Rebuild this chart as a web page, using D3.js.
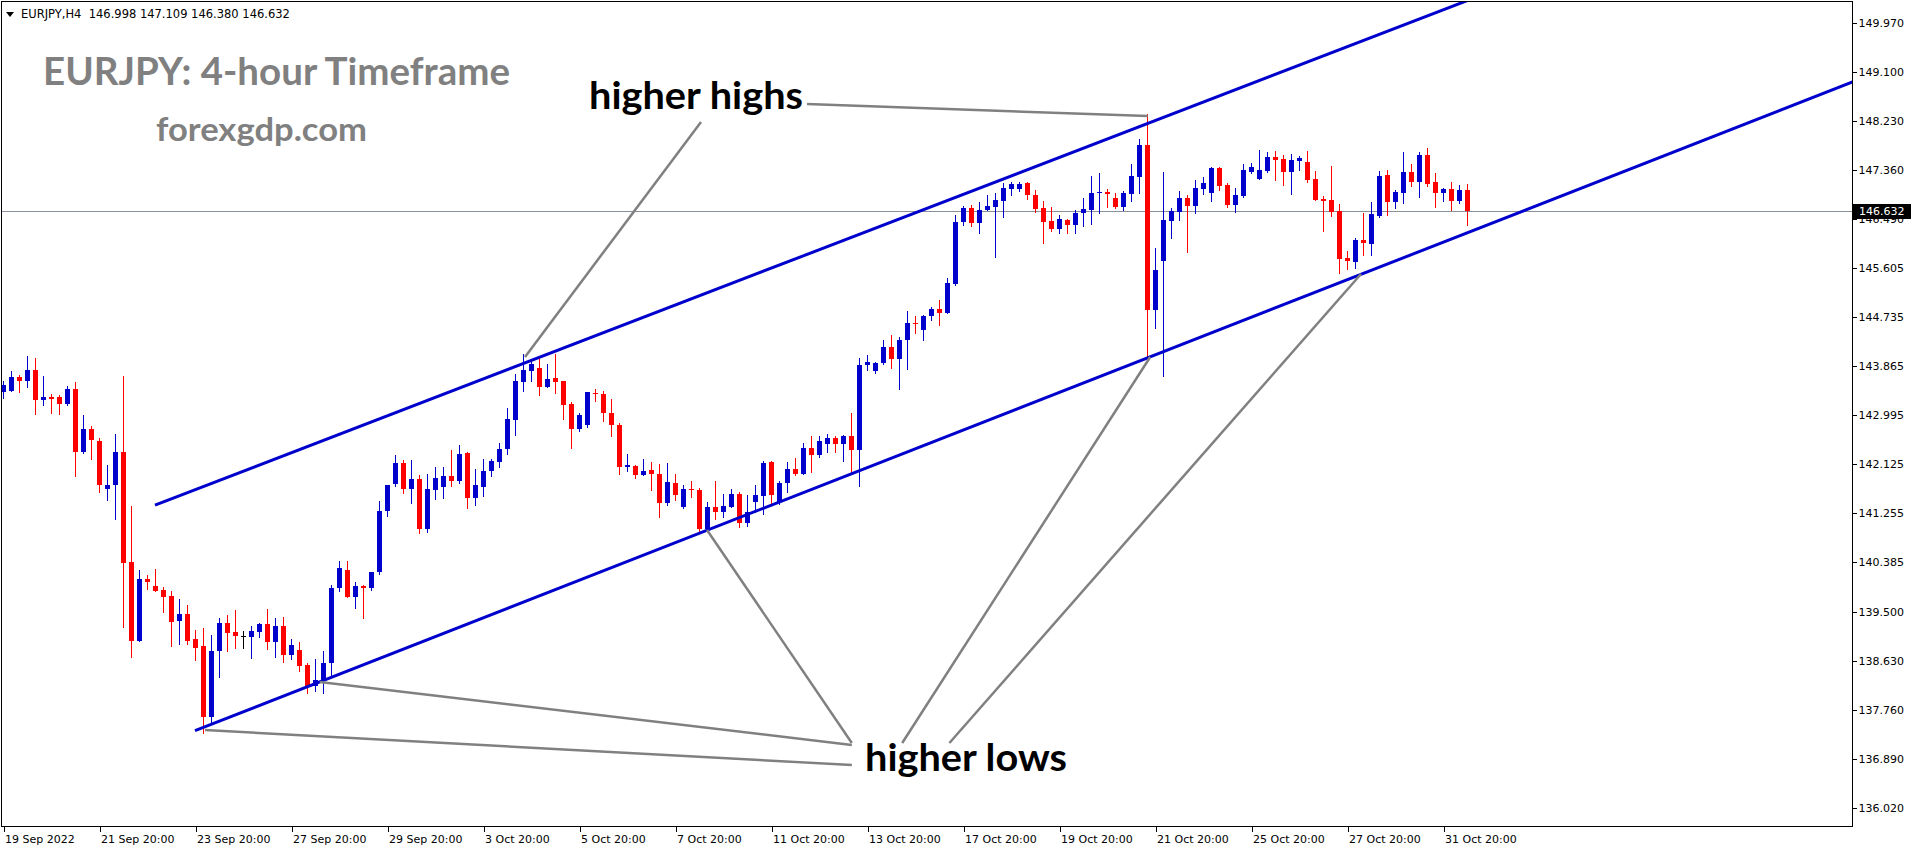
<!DOCTYPE html>
<html><head><meta charset="utf-8">
<script src="https://cdn.jsdelivr.net/npm/d3@7"></script>
<style>
html,body{margin:0;padding:0;background:#fff;overflow:hidden;}
svg{display:block;}
</style></head><body>
<svg id="chart" width="1916" height="850"></svg>
<script>
// ---------------- DATA ----------------
const headerText = "EURJPY,H4  146.998 147.109 146.380 146.632";
const titleText = "EURJPY: 4-hour Timeframe";
const siteText = "forexgdp.com";
const lastPrice = 146.632;

const opens = [143.40,143.43,143.67,143.61,143.80,143.26,143.32,143.32,143.20,143.47,
142.35,142.76,142.54,141.69,141.75,142.34,140.39,138.99,140.09,139.96,
139.89,139.78,139.35,139.47,139.02,138.89,137.63,138.80,139.30,139.14,
139.08,139.05,139.15,139.29,138.96,139.25,138.74,138.83,138.56,138.18,
138.29,138.59,139.93,140.25,139.77,139.96,139.92,140.21,141.29,141.78,
142.14,141.69,141.86,140.98,141.67,141.72,141.91,141.83,142.32,141.53,
141.73,142.00,142.17,142.39,142.92,143.59,143.79,143.83,143.49,143.65,
143.60,143.20,142.75,142.82,143.39,143.37,143.03,142.83,142.07,142.09,
141.93,142.02,141.96,141.44,141.80,141.36,141.69,141.67,140.98,141.37,
141.28,141.37,141.60,141.08,141.45,141.57,142.17,141.46,141.79,142.04,
141.95,142.41,142.29,142.48,142.60,142.48,142.63,142.38,143.88,143.79,
143.92,144.20,143.99,144.34,144.63,144.51,144.75,144.88,144.82,145.33,
146.42,146.67,146.41,146.65,146.70,146.81,147.01,147.01,147.12,146.91,
146.68,146.45,146.30,146.46,146.38,146.58,146.64,146.95,146.97,146.85,
146.70,146.92,147.23,147.80,144.87,145.74,146.45,146.61,146.85,146.71,
147.02,146.95,147.38,147.09,146.73,146.89,147.31,147.19,147.34,147.58,
147.55,147.32,147.52,147.50,147.19,146.84,146.82,146.62,145.79,145.71,
146.11,146.04,146.53,147.26,146.79,146.94,147.32,147.13,147.62,147.13,
146.94,147.01,146.81,146.998];
const highs = [143.61,143.78,143.71,144.05,144.01,143.69,143.37,143.36,143.52,143.59,
143.00,142.81,142.59,142.11,142.66,143.69,141.38,140.25,140.16,140.27,
139.94,139.87,139.73,139.62,139.18,139.22,139.09,139.40,139.45,139.54,
139.16,139.25,139.31,139.56,139.40,139.41,139.03,138.97,138.59,138.67,
138.81,139.98,140.41,140.40,140.03,139.98,140.21,141.47,141.76,142.29,
142.20,142.20,141.93,141.96,142.08,142.08,142.38,142.47,142.35,142.04,
142.21,142.21,142.51,143.12,143.72,144.08,143.99,144.04,143.91,144.08,
143.61,143.24,143.04,143.41,143.46,143.43,143.28,142.86,142.31,142.11,
142.22,142.17,142.13,142.15,141.95,141.76,141.82,141.70,141.46,141.83,
141.60,141.69,141.64,141.58,141.76,142.18,142.18,141.83,142.17,142.23,
142.50,142.63,142.62,142.66,142.63,142.65,143.04,144.02,144.07,143.95,
144.33,144.42,144.39,144.84,144.76,144.77,144.91,145.05,145.43,146.55,
146.71,146.73,146.79,146.90,146.94,147.12,147.13,147.13,147.13,146.99,
146.80,146.69,146.55,146.49,146.65,146.85,147.25,147.29,147.01,146.95,
146.98,147.46,147.91,148.35,145.97,147.32,146.67,146.98,146.91,147.17,
147.23,147.41,147.41,147.12,147.03,147.46,147.48,147.71,147.68,147.69,
147.62,147.63,147.60,147.69,147.33,146.89,147.43,146.75,145.91,146.14,
146.59,146.79,147.34,147.35,146.99,147.68,147.46,147.67,147.74,147.29,
147.04,147.13,147.09,147.109];
const lows = [143.31,143.42,143.41,143.50,143.01,143.18,143.04,143.01,143.17,141.92,
142.33,142.22,141.64,141.49,141.15,139.24,138.71,138.98,139.91,139.88,
139.51,138.90,138.93,138.93,138.65,137.35,137.53,138.34,138.80,138.86,
138.86,138.69,139.06,138.84,138.71,138.62,138.67,138.46,138.06,138.09,
138.06,138.36,139.88,139.77,139.58,139.40,139.90,140.18,141.21,141.74,
141.61,141.44,140.90,140.93,141.51,141.52,141.74,141.80,141.35,141.40,
141.57,141.92,142.07,142.31,142.64,143.43,143.60,143.36,143.49,143.39,
142.93,142.42,142.72,142.79,143.25,142.90,142.62,141.95,142.01,141.89,
141.93,141.67,141.18,141.40,141.49,141.35,141.55,140.93,140.96,141.15,
141.19,141.36,141.01,141.03,141.27,141.25,141.42,141.42,141.64,141.93,
141.95,141.98,142.25,142.35,142.35,142.18,141.95,141.74,143.80,143.75,
143.91,143.83,143.47,143.81,144.45,144.34,144.68,144.59,144.81,145.31,
146.38,146.36,146.23,146.64,145.80,146.51,146.90,146.98,146.83,146.61,
146.06,146.26,146.23,146.23,146.23,146.35,146.39,146.58,146.69,146.68,
146.65,146.80,146.94,144.02,144.55,143.70,146.15,146.46,145.90,146.59,
146.93,146.80,147.00,146.69,146.61,146.88,147.29,147.19,147.32,147.17,
147.09,146.93,147.35,147.14,146.82,146.26,146.54,145.53,145.59,145.61,
145.84,145.84,146.52,146.55,146.67,146.77,147.06,146.88,147.07,146.70,
146.80,146.65,146.76,146.380];
const closes = [143.53,143.67,143.61,143.80,143.26,143.32,143.29,143.20,143.47,142.35,
142.76,142.55,141.75,141.76,142.34,140.37,138.99,140.09,140.04,139.88,
139.77,139.33,139.47,138.99,138.87,137.63,138.81,139.30,139.12,139.08,
139.08,139.16,139.29,138.96,139.25,138.74,138.92,138.55,138.18,138.29,
138.60,139.93,140.28,139.77,139.96,139.92,140.21,141.30,141.75,142.14,
141.69,141.86,140.98,141.69,141.89,141.91,141.83,142.31,141.53,141.76,
142.01,142.19,142.40,142.93,143.60,143.80,143.91,143.49,143.64,143.59,
143.18,142.75,143.00,143.40,143.37,143.03,142.83,142.07,142.11,141.93,
142.01,141.95,141.44,141.81,141.58,141.69,141.66,140.98,141.37,141.28,
141.38,141.60,141.08,141.27,141.58,142.15,141.58,141.79,142.04,141.95,
142.41,142.29,142.54,142.60,142.48,142.63,142.38,143.89,143.94,143.92,
144.20,143.99,144.34,144.63,144.62,144.76,144.88,144.82,145.34,146.42,
146.67,146.41,146.65,146.71,146.82,147.03,147.10,147.10,146.90,146.66,
146.43,146.30,146.48,146.38,146.59,146.66,146.95,146.96,146.92,146.70,
146.94,147.25,147.80,144.87,145.58,146.46,146.63,146.85,146.71,147.03,
147.12,147.38,147.07,146.73,146.91,147.35,147.40,147.35,147.59,147.53,
147.32,147.53,147.56,147.17,146.82,146.81,146.61,145.78,145.74,146.11,
146.05,146.57,147.25,146.79,146.97,147.32,147.13,147.62,147.10,146.94,
147.01,146.81,146.998,146.632];

const yTickValues = [149.970,149.100,148.230,147.360,146.490,145.605,144.735,143.865,
142.995,142.125,141.255,140.385,139.500,138.630,137.760,136.890,136.020];
const xTickIndex = [0,12,24,36,48,60,72,84,96,108,120,132,144,156,168,180];
const xTickLabels = ["19 Sep 2022","21 Sep 20:00","23 Sep 20:00","27 Sep 20:00","29 Sep 20:00",
"3 Oct 20:00","5 Oct 20:00","7 Oct 20:00","11 Oct 20:00","13 Oct 20:00","17 Oct 20:00",
"19 Oct 20:00","21 Oct 20:00","25 Oct 20:00","27 Oct 20:00","31 Oct 20:00"];

// trend channel lines: [barIndex, price] anchor pairs
const upperChannel = [[19, 141.40], [184, 150.414]];
const lowerChannel = [[24, 137.393], [232, 148.96]];
// annotation pointer lines: [barIndex, price] pairs
const highPointers = [
  [[87.25, 148.205], [65.25, 144.03]],
  [[100.5, 148.524], [143.1, 148.31]]
];
const lowPointers = [
  [[106.1, 137.175], [88.0, 140.958]],
  [[112.4, 137.175], [143.4, 144.03]],
  [[118.3, 137.175], [169.75, 145.505]],
  [[106.1, 137.14], [39.6, 138.258]],
  [[106.1, 136.784], [25.25, 137.405]]
];
const highLabel = {text: "higher highs", at: [73.25, 148.44]};
const lowLabel = {text: "higher lows", at: [107.75, 136.68]};

// ---------------- CHART ----------------
const W = 1916, H = 850;
const plot = {left: 1, top: 1, right: 1852, bottom: 826};
const x = d3.scaleLinear().domain([0, 183]).range([3, 1467]);
const y = d3.scaleLinear().domain([136.02, 149.97]).range([808, 22.6]);

const BLUE = "#0000CD", RED = "#FF0000", GRAY = "#808080";
const svg = d3.select("#chart");
svg.append("rect").attr("width", W).attr("height", H).attr("fill", "#fff");

const defs = svg.append("defs");
defs.append("clipPath").attr("id", "plotClip").append("rect")
  .attr("x", plot.left + 1).attr("y", plot.top + 1)
  .attr("width", plot.right - plot.left - 1).attr("height", plot.bottom - plot.top - 1);

const g = svg.append("g").attr("clip-path", "url(#plotClip)");

// current price line
g.append("line")
  .attr("x1", plot.left).attr("x2", plot.right)
  .attr("y1", Math.round(y(lastPrice)) + 0.5).attr("y2", Math.round(y(lastPrice)) + 0.5)
  .attr("stroke", "#8a919a").attr("stroke-width", 1);

// candles
const bars = d3.range(opens.length).map(i => ({i, o: opens[i], h: highs[i], l: lows[i], c: closes[i]}));
const colorOf = d => d.c > d.o ? BLUE : (d.c < d.o ? RED : "#000");
const cg = g.append("g").attr("shape-rendering", "crispEdges");
cg.selectAll("line.wick").data(bars).join("line").attr("class", "wick")
  .attr("x1", d => Math.round(x(d.i)) + 0.5).attr("x2", d => Math.round(x(d.i)) + 0.5)
  .attr("y1", d => Math.round(y(d.h))).attr("y2", d => Math.round(y(d.l)) + 1)
  .attr("stroke", colorOf).attr("stroke-width", 1);
cg.selectAll("rect.body").data(bars).join("rect").attr("class", "body")
  .attr("x", d => Math.round(x(d.i)) - 2)
  .attr("width", 5)
  .attr("y", d => Math.round(y(Math.max(d.o, d.c))))
  .attr("height", d => Math.max(1, Math.round(y(Math.min(d.o, d.c))) - Math.round(y(Math.max(d.o, d.c)))))
  .attr("fill", colorOf);

// channel lines
const lineGen = d3.line().x(p => x(p[0])).y(p => y(p[1]));
g.selectAll("path.channel").data([upperChannel, lowerChannel]).join("path")
  .attr("class", "channel").attr("d", lineGen)
  .attr("fill", "none").attr("stroke", BLUE).attr("stroke-width", 3);

// pointer lines
g.selectAll("path.pointer").data(highPointers.concat(lowPointers)).join("path")
  .attr("class", "pointer").attr("d", lineGen)
  .attr("fill", "none").attr("stroke", GRAY).attr("stroke-width", 2.5);

// annotation labels
[[highLabel, 214], [lowLabel, 202]].forEach(([lab, len]) => {
  svg.append("text").attr("x", x(lab.at[0])).attr("y", y(lab.at[1]))
    .attr("font-family", "Lato, 'Open Sans', sans-serif").attr("font-weight", 700)
    .attr("font-size", 38).attr("fill", "#000")
    .attr("textLength", len).attr("lengthAdjust", "spacingAndGlyphs")
    .text(lab.text);
});

// title & site
svg.append("text").attr("x", 43).attr("y", 85)
  .attr("font-family", "Lato, sans-serif").attr("font-weight", 700)
  .attr("font-size", 38).attr("fill", GRAY)
  .attr("textLength", 467).attr("lengthAdjust", "spacingAndGlyphs").text(titleText);
svg.append("text").attr("x", 156).attr("y", 141)
  .attr("font-family", "Lato, sans-serif").attr("font-weight", 700)
  .attr("font-size", 33).attr("fill", GRAY)
  .attr("textLength", 211).attr("lengthAdjust", "spacingAndGlyphs").text(siteText);

// header
svg.append("path").attr("d", "M6,12 L14,12 L10,17 Z").attr("fill", "#000");
svg.append("text").attr("x", 21).attr("y", 18)
  .attr("font-family", "'DejaVu Sans', sans-serif").attr("font-size", 11.5)
  .attr("fill", "#000").attr("xml:space", "preserve").text(headerText);

// plot border
svg.append("rect").attr("x", plot.left + 0.5).attr("y", plot.top + 0.5)
  .attr("width", plot.right - plot.left).attr("height", plot.bottom - plot.top)
  .attr("fill", "none").attr("stroke", "#000").attr("stroke-width", 1);

// y axis
const yAxis = d3.axisRight(y).tickValues(yTickValues).tickSize(4).tickPadding(2)
  .tickFormat(d3.format(".3f"));
const ya = svg.append("g").attr("transform", `translate(${plot.right + 0.5},0)`).call(yAxis);
ya.select(".domain").remove();
ya.selectAll("line").attr("stroke", "#000").attr("shape-rendering", "crispEdges");
ya.selectAll("text").attr("font-family", "'DejaVu Sans', sans-serif").attr("font-size", 11).attr("fill", "#000");

// price label box
const py = y(lastPrice);
svg.append("rect").attr("x", plot.right + 1).attr("y", Math.round(py) - 7)
  .attr("width", 58).attr("height", 15).attr("fill", "#000");
svg.append("text").attr("x", plot.right + 7).attr("y", Math.round(py) + 4)
  .attr("font-family", "'DejaVu Sans', sans-serif").attr("font-size", 11)
  .attr("fill", "#fff").text(d3.format(".3f")(lastPrice));

// x axis
const xAxis = d3.axisBottom(x).tickValues(xTickIndex).tickSize(5).tickPadding(4)
  .tickFormat((d, k) => xTickLabels[k]);
const xa = svg.append("g").attr("transform", `translate(0.5,${plot.bottom + 0.5})`).call(xAxis);
xa.select(".domain").remove();
xa.selectAll("line").attr("stroke", "#000").attr("shape-rendering", "crispEdges");
xa.selectAll("text").attr("font-family", "'DejaVu Sans', sans-serif").attr("font-size", 11)
  .attr("fill", "#000").attr("text-anchor", "start").attr("dx", 1);
</script>
</body></html>
